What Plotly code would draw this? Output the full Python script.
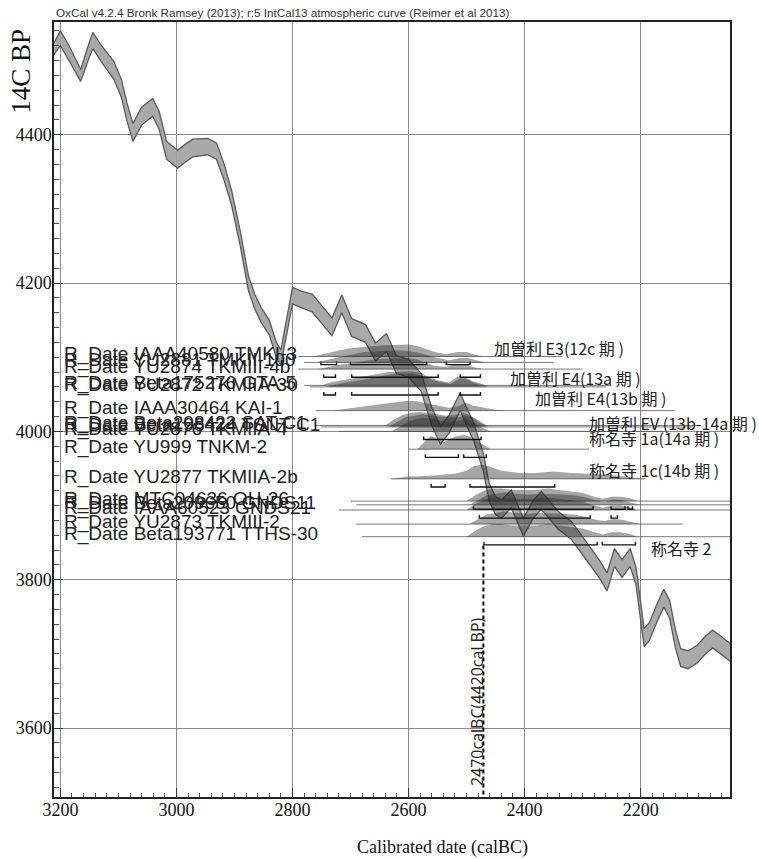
import plotly.graph_objects as go

# ---------------- calibration curve (IntCal13) -------------
curve_year = [3211, 3200, 3185, 3165, 3150, 3144, 3130, 3108, 3095, 3085, 3075, 3060, 3041, 3030,
              3017, 2998, 2985, 2972, 2946, 2931, 2918, 2905, 2890, 2876, 2865, 2854, 2840, 2828,
              2820, 2810, 2800, 2785, 2766, 2750, 2732, 2715, 2698, 2674, 2657, 2638, 2621, 2600,
              2578, 2560, 2545, 2530, 2511, 2500, 2488, 2471, 2461, 2450, 2440, 2423, 2402, 2385,
              2371, 2342, 2320, 2303, 2286, 2270, 2258, 2245, 2232, 2218, 2208, 2200, 2194, 2185,
              2172, 2160, 2150, 2140, 2131, 2118, 2102, 2088, 2076, 2062, 2046]
curve_bp = [4516, 4530, 4510, 4480, 4515, 4527, 4510, 4487, 4463, 4430, 4403, 4425, 4437, 4420,
            4379, 4367, 4375, 4382, 4384, 4378, 4350, 4315, 4260, 4200, 4175, 4157, 4140, 4110,
            4100, 4140, 4183, 4178, 4173, 4158, 4141, 4172, 4140, 4132, 4107, 4120, 4090, 4085,
            4066, 4020, 3995, 4010, 4040, 4020, 4000, 3958, 3918, 3900, 3895, 3909, 3871, 3895,
            3907, 3880, 3867, 3849, 3830, 3813, 3797, 3830, 3815, 3830, 3805, 3760, 3722, 3730,
            3755, 3775, 3760, 3720, 3695, 3692, 3700, 3712, 3720, 3712, 3702]
curve_halfwidth = [8, 10, 10, 8, 10, 11, 11, 12, 12, 12, 12, 12, 12, 12,
                   12, 12, 12, 12, 11, 11, 11, 10, 10, 10, 10, 10, 10, 10,
                   10, 10, 11, 11, 12, 12, 12, 12, 12, 12, 12, 12, 12, 12,
                   12, 12, 12, 12, 12, 12, 12, 12, 12, 12, 12, 12, 12, 12,
                   12, 12, 12, 12, 12, 12, 12, 12, 12, 12, 12, 12, 12, 12,
                   12, 12, 12, 12, 12, 12, 12, 12, 12, 12, 12]

# ---------------- R_Date rows ------------------------------------------------
row_labels = [
    "R_Date IAAA40580 TMKI-3",
    "R_Date YU2881 TMKII-100",
    "R_Date YU2874 TKMIII-4b",
    "R_Date Beta175276 GTA-5",
    "R_Date YU2872 TKMIIA-30",
    "R_Date IAAA30464 KAI-1",
    "R_Date Beta208422 SAT-C1",
    "R_Date Beta198424 TSNT-C1",
    "R_Date YU2876 TKMIIA-4",
    "R_Date YU999 TNKM-2",
    "R_Date YU2877 TKMIIA-2b",
    "R_Date MTC04636 OH-26",
    "R_Date Beta209650 GNDS11",
    "R_Date IAAA60523 GNDS21",
    "R_Date YU2873 TKMIII-2",
    "R_Date Beta193771 TTHS-30",
]
row_bp = [4101, 4093, 4084, 4062, 4060, 4028, 4008, 4006, 4000, 3976, 3936,
          3906, 3901, 3894, 3875, 3858]
row_line_from = [2790, 2780, 2790, 2780, 2770, 2760, 2760, 2750, 2720, 2600, 2631,
                 2700, 2690, 2720, 2690, 2680]
row_line_to = [2335, 2350, 2300, 2250, 2260, 2141, 2100, 2110, 2160, 2289, 2192,
               2046, 2046, 2046, 2127, 2046]
row_dist_years = [
    [2765, 2745, 2720, 2700, 2680, 2660, 2640, 2620, 2600, 2585, 2570, 2555, 2535, 2515, 2500, 2488, 2470],
    [2760, 2740, 2715, 2695, 2675, 2655, 2635, 2615, 2598, 2582, 2568, 2550, 2530, 2512, 2498, 2485, 2468],
    [2755, 2740, 2720, 2700, 2680, 2660, 2640, 2620, 2600, 2585, 2570, 2555, 2535, 2515, 2502, 2490, 2472],
    [2750, 2735, 2715, 2695, 2675, 2655, 2635, 2615, 2595, 2580, 2565, 2550, 2530, 2515, 2505, 2490, 2465],
    [2745, 2730, 2710, 2690, 2670, 2650, 2630, 2610, 2592, 2578, 2562, 2548, 2528, 2512, 2502, 2488, 2462],
    [2730, 2700, 2670, 2645, 2625, 2605, 2590, 2570, 2550, 2530, 2515, 2502, 2490, 2470, 2450, 2430],
    [2640, 2625, 2610, 2595, 2580, 2565, 2550, 2535, 2520, 2505, 2495, 2480, 2465],
    [2635, 2620, 2605, 2590, 2575, 2560, 2545, 2530, 2515, 2502, 2490, 2478, 2462],
    [2630, 2615, 2600, 2585, 2570, 2555, 2545, 2530, 2515, 2502, 2490, 2475, 2460],
    [2585, 2572, 2562, 2552, 2545, 2535, 2520, 2505, 2495, 2482, 2470, 2458],
    [2631, 2600, 2570, 2545, 2520, 2500, 2488, 2475, 2462, 2440, 2410, 2380, 2350, 2320, 2290, 2260, 2230, 2193],
    [2500, 2485, 2470, 2455, 2440, 2420, 2400, 2380, 2360, 2340, 2320, 2300, 2280, 2265, 2250, 2235, 2220, 2205],
    [2495, 2480, 2465, 2450, 2435, 2415, 2395, 2375, 2355, 2335, 2315, 2295, 2278, 2262, 2248, 2232, 2218, 2200],
    [2500, 2485, 2470, 2455, 2440, 2420, 2400, 2380, 2360, 2340, 2320, 2300, 2280, 2265, 2250, 2235, 2220, 2205],
    [2495, 2480, 2465, 2450, 2435, 2415, 2395, 2375, 2355, 2335, 2315, 2295, 2278, 2262, 2248, 2232, 2218, 2200],
    [2500, 2485, 2470, 2455, 2440, 2420, 2400, 2380, 2360, 2340, 2320, 2300, 2280, 2265, 2250, 2235, 2220, 2205],
]
row_dist_heights = [
    [0, 4, 8, 11, 13, 14, 15, 16, 16, 14, 10, 6, 3, 6, 6, 3, 0],
    [0, 4, 8, 11, 14, 15, 16, 16, 15, 13, 10, 6, 3, 6, 6, 3, 0],
    [0, 3, 6, 8, 11, 13, 14, 15, 15, 13, 8, 4, 3, 7, 7, 3, 0],
    [0, 4, 7, 10, 13, 15, 18, 19, 19, 17, 11, 7, 4, 12, 12, 6, 0],
    [0, 3, 6, 8, 11, 14, 17, 18, 18, 15, 11, 7, 4, 11, 11, 6, 0],
    [0, 3, 6, 8, 11, 13, 13, 10, 7, 4, 6, 11, 7, 4, 1, 0],
    [0, 8, 14, 17, 18, 17, 15, 13, 14, 17, 14, 7, 0],
    [0, 7, 13, 15, 17, 15, 14, 13, 13, 15, 13, 6, 0],
    [0, 7, 13, 17, 18, 17, 14, 13, 14, 17, 13, 6, 0],
    [0, 11, 18, 15, 8, 11, 17, 19, 17, 11, 6, 0],
    [0, 3, 4, 6, 7, 11, 17, 19, 17, 11, 8, 8, 10, 8, 7, 6, 3, 0],
    [0, 8, 14, 17, 17, 15, 15, 15, 17, 15, 14, 11, 6, 3, 6, 6, 4, 0],
    [0, 7, 13, 15, 17, 15, 14, 15, 15, 14, 13, 10, 6, 4, 7, 6, 3, 0],
    [0, 8, 14, 17, 17, 15, 15, 15, 17, 15, 14, 11, 6, 3, 6, 6, 4, 0],
    [0, 7, 13, 15, 17, 15, 14, 15, 15, 14, 13, 10, 6, 4, 7, 6, 3, 0],
    [0, 8, 14, 17, 17, 15, 15, 15, 17, 15, 14, 11, 6, 3, 6, 6, 4, 0],
]
row_ranges = [
    [[2751, 2724], [2700, 2569], [2535, 2494]],
    [],
    [[2746, 2726], [2698, 2549], [2511, 2476]],
    [],
    [[2746, 2726], [2698, 2549], [2511, 2476]],
    [],
    [],
    [],
    [[2574, 2475]],
    [[2571, 2514], [2505, 2466]],
    [[2561, 2537], [2494, 2348]],
    [[2488, 2282], [2251, 2227], [2222, 2214]],
    [],
    [[2478, 2287], [2251, 2240]],
    [],
    [[2470, 2275], [2266, 2209]],
]

# ---------------- phase labels -----------------------------------------------
group_labels = ["加曽利 E3(12c 期 )", "加曽利 E4(13a 期 )", "加曽利 E4(13b 期 )",
                "加曽利 EV (13b-14a 期 )", "称名寺 1a(14a 期 )", "称名寺 1c(14b 期 )", "称名寺 2"]
group_year = [2456, 2429, 2386, 2292, 2292, 2292, 2186]
group_bp = [4113, 4072, 4045, 4011, 3991, 3948, 3843]

marker_year = 2471
marker_top_bp = 3846
marker_text = "2470calBC(4420cal BP)"

x_ticks = [3200, 3000, 2800, 2600, 2400, 2200]
y_ticks = [3600, 3800, 4000, 4200, 4400]

fig = go.Figure()

# calibration band
upper = [c + h for c, h in zip(curve_bp, curve_halfwidth)]
lower = [c - h for c, h in zip(curve_bp, curve_halfwidth)]
fig.add_trace(go.Scatter(x=curve_year, y=upper, mode="lines",
                         line=dict(color="#5a5a5a", width=1.3), hoverinfo="skip"))
fig.add_trace(go.Scatter(x=curve_year, y=lower, mode="lines", fill="tonexty",
                         fillcolor="rgba(160,160,160,0.9)",
                         line=dict(color="#5a5a5a", width=1.3), hoverinfo="skip"))

# row baselines
for bp, a, b in zip(row_bp, row_line_from, row_line_to):
    fig.add_trace(go.Scatter(x=[a, b], y=[bp, bp], mode="lines",
                             line=dict(color="#555555", width=0.8), hoverinfo="skip"))

# distributions
for bp, ys, hs in zip(row_bp, row_dist_years, row_dist_heights):
    xs = list(ys) + [ys[-1], ys[0]]
    yv = [bp + h for h in hs] + [bp, bp]
    fig.add_trace(go.Scatter(x=xs, y=yv, mode="lines", fill="toself",
                             fillcolor="rgba(40,40,40,0.42)",
                             line=dict(width=0), hoverinfo="skip"))

# range brackets
bx, by = [], []
for bp, rngs in zip(row_bp, row_ranges):
    yb = bp - 11
    for a, b in rngs:
        bx += [a, a, b, b, None]
        by += [yb + 4, yb, yb, yb + 4, None]
fig.add_trace(go.Scatter(x=bx, y=by, mode="lines",
                         line=dict(color="#111111", width=1.4), hoverinfo="skip"))

# marker line
fig.add_trace(go.Scatter(x=[marker_year, marker_year], y=[marker_top_bp, 3507], mode="lines",
                         line=dict(color="#000000", width=2, dash="4px,3px"), hoverinfo="skip"))

annotations = []
for lab, bp in zip(row_labels, row_bp):
    annotations.append(dict(x=3197, y=bp + 3, xref="x", yref="y", text=lab, showarrow=False,
                            xanchor="left", yanchor="middle",
                            font=dict(family="Liberation Sans", size=19, color="#222222")))
for lab, gx, gy in zip(group_labels, group_year, group_bp):
    annotations.append(dict(x=gx, y=gy, xref="x", yref="y", text=lab, showarrow=False,
                            xanchor="left", yanchor="middle",
                            font=dict(family="Noto Sans CJK JP", size=16, color="#222222")))
annotations.append(dict(x=marker_year + 11, y=3635, xref="x", yref="y", text=marker_text,
                        showarrow=False, textangle=-90, xanchor="center", yanchor="middle",
                        font=dict(family="Open Sans", size=16, color="#222222")))
annotations.append(dict(x=0, y=1.0, xref="paper", yref="paper", yshift=1,
                        text="OxCal v4.2.4 Bronk Ramsey (2013); r:5 IntCal13 atmospheric curve (Reimer et al 2013)",
                        showarrow=False, xanchor="left", yanchor="bottom",
                        font=dict(family="Liberation Sans", size=11.7, color="#333333")))
annotations.append(dict(x=-0.049, y=0.937, xref="paper", yref="paper", text="14C BP", textangle=-90,
                        showarrow=False, xanchor="center", yanchor="middle",
                        font=dict(family="Liberation Serif", size=27, color="#111")))
annotations.append(dict(x=0.575, y=-0.0655, xref="paper", yref="paper", text="Calibrated date (calBC)",
                        showarrow=False, xanchor="center", yanchor="middle",
                        font=dict(family="Liberation Serif", size=18, color="#111")))

fig.update_layout(
    width=759, height=859,
    margin=dict(l=54, r=29, t=22, b=62, autoexpand=False),
    paper_bgcolor="white", plot_bgcolor="white",
    showlegend=False,
    annotations=annotations,
    xaxis=dict(range=[3211, 2046], tickvals=x_ticks, ticktext=[str(v) for v in x_ticks],
               automargin=False,
               showgrid=True, gridcolor="#8a8a8a", gridwidth=1,
               ticks="inside", ticklen=9, tickcolor="#333", tickwidth=1.2,
               minor=dict(dtick=20, tick0=3200, ticks="inside", ticklen=4, tickcolor="#555", showgrid=False),
               showline=True, linecolor="#222", linewidth=1.5, mirror=True, zeroline=False,
               tickfont=dict(family="Liberation Serif", size=18, color="#111"),
               ticklabelstandoff=-4, title=dict(text="")),
    yaxis=dict(range=[3507, 4552], tickvals=y_ticks, ticktext=[str(v) for v in y_ticks],
               automargin=False,
               showgrid=True, gridcolor="#8a8a8a", gridwidth=1,
               ticks="inside", ticklen=9, tickcolor="#333", tickwidth=1.2,
               minor=dict(dtick=20, tick0=3600, ticks="inside", ticklen=5, tickcolor="#555", showgrid=False),
               showline=True, linecolor="#222", linewidth=1.5, mirror=True, zeroline=False,
               tickfont=dict(family="Liberation Serif", size=18, color="#111"),
               title=dict(text=""), ticklabelstandoff=-3),
)
fig.write_html("out.html", config={"displayModeBar": False},
               post_script="document.body.style.margin='0px';document.body.style.overflow='hidden';")
